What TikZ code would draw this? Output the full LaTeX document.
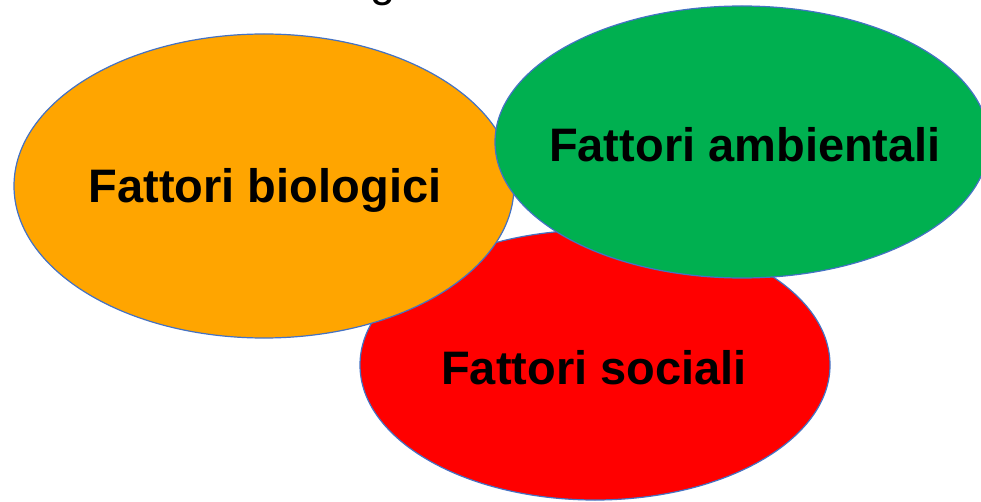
\documentclass[tikz,border=0pt]{standalone}
\usepackage{fontspec}
\setmainfont{Liberation Sans}
\usetikzlibrary{shapes.geometric}
\definecolor{ringblue}{HTML}{4472C4}
\definecolor{bioorange}{HTML}{FFA500}
\definecolor{ambgreen}{HTML}{00B050}
\definecolor{socred}{HTML}{FF0000}

\begin{document}
\begin{tikzpicture}[
    x=1pt, y=-1pt,
    every node/.style={font=\fontsize{47}{56}\selectfont\bfseries},
    blob/.style={draw=ringblue, line width=1.2pt, ellipse, inner sep=0pt},
    title/.style={font=\fontsize{45}{54}\selectfont, anchor=base}
]
    \clip (0, 0) rectangle (981, 502);
    \fill[white] (0, 0) rectangle (981, 502);

    \node[title] (head) at (383, -3) {g};

    \node[blob, fill=socred, minimum width=470, minimum height=270] (soc) at (595, 365) {};
    \node[blob, fill=bioorange, minimum width=500, minimum height=304] (bio) at (264, 186) {};
    \node[blob, fill=ambgreen, minimum width=494, minimum height=272] (amb) at (742, 142) {};

    \node (biotxt) at (265, 190) {Fattori biologici};
    \node (ambtxt) at (745, 145) {Fattori ambientali};
    \node (soctxt) at (594, 368) {Fattori sociali};
\end{tikzpicture}
\end{document}
